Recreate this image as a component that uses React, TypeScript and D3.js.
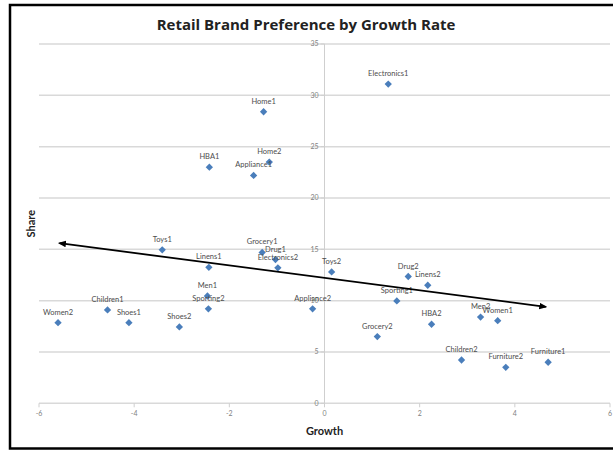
import React from "react";
import * as d3 from "d3";

// Brand segments: growth (x) vs. share (y)
const brands = [
  "Electronics1", "Home1", "HBA1", "Home2", "Appliance1", "Toys1", "Linens1",
  "Grocery1", "Drug1", "Electronics2", "Toys2", "Drug2", "Linens2", "Men1",
  "Sporting2", "Children1", "Women2", "Shoes1", "Shoes2", "Appliance2",
  "Sporting1", "Grocery2", "HBA2", "Men2", "Women1", "Children2",
  "Furniture2", "Furniture1",
];
const growth = [
  1.34, -1.28, -2.42, -1.16, -1.49, -3.41, -2.43,
  -1.31, -1.03, -0.98, 0.15, 1.76, 2.17, -2.46,
  -2.44, -4.56, -5.6, -4.11, -3.05, -0.25,
  1.52, 1.11, 2.25, 3.28, 3.64, 2.88,
  3.81, 4.7,
];
const share = [
  31.1, 28.4, 23.0, 23.5, 22.2, 14.95, 13.25,
  14.7, 14.0, 13.2, 12.8, 12.35, 11.5, 10.45,
  9.2, 9.1, 7.85, 7.85, 7.44, 9.2,
  9.97, 6.5, 7.7, 8.4, 8.05, 4.22,
  3.5, 4.0,
];

// Trend arrow endpoints (growth, share)
const trendGrowth = [-5.57, 4.65];
const trendShare = [15.6, 9.4];

const xTicks = [-6, -4, -2, 0, 2, 4, 6];
const yTicks = [0, 5, 10, 15, 20, 25, 30, 35];

const W = 613;
const H = 451;

export default function App() {
  const x = d3.scaleLinear().domain([-6, 6]).range([39, 610]);
  const y = d3.scaleLinear().domain([0, 35]).range([403.3, 44]);
  const diamond = d3.symbol().type(d3.symbolDiamond2).size(34)();
  const trend = d3
    .line<number>()
    .x((_, i) => x(trendGrowth[i]))
    .y((d) => y(d));

  const font = "Lato, 'Open Sans', sans-serif";
  const titleFont = "'Open Sans', Lato, sans-serif";
  const labelColor = "#4d4d4d";

  return (
    <div style={{ position: "fixed", left: 0, top: 0 }}>
      <svg width={W} height={H} style={{ display: "block", background: "#fff" }}>
        <defs>
          <marker id="arrowHead" viewBox="0 0 10 10" refX="8" refY="5"
            markerWidth="4.5" markerHeight="4.5" orient="auto-start-reverse">
            <path d="M0,1 L10,5 L0,9 Z" fill="#000" />
          </marker>
        </defs>
        <rect x={10} y={5} width={W} height={443.5} fill="none" stroke="#000" strokeWidth={2.5} />

        <text x={306} y={30} textAnchor="middle" fontFamily={titleFont} fontWeight="bold"
          fontSize={15} fill="#222">
          Retail Brand Preference by Growth Rate
        </text>

        {/* horizontal gridlines */}
        {yTicks.map((t) => (
          <line key={"g" + t} x1={x(-6)} x2={x(6)} y1={y(t)} y2={y(t)}
            stroke="#d9d9d9" strokeWidth={1.5} />
        ))}
        {/* vertical axis at growth = 0 */}
        <line x1={x(0)} x2={x(0)} y1={y(0)} y2={y(35)} stroke="#cfcfcf" strokeWidth={1} />
        {yTicks.map((t) => (
          <g key={"yt" + t}>
            <line x1={x(0) - 4} x2={x(0)} y1={y(t)} y2={y(t)} stroke="#cfcfcf" />
            <text x={x(0) - 6} y={y(t)} dy="0.35em" textAnchor="end" fontFamily={font}
              fontSize={7} fill="#7f7f7f">{t}</text>
          </g>
        ))}
        {xTicks.map((t) => (
          <g key={"xt" + t}>
            <line x1={x(t)} x2={x(t)} y1={y(0)} y2={y(0) + 4} stroke="#cfcfcf" />
            <text x={x(t)} y={y(0) + 13} textAnchor="middle" fontFamily={font}
              fontSize={7} fill="#7f7f7f">{t}</text>
          </g>
        ))}

        <text transform={`translate(35,${(y(0) + y(35)) / 2}) rotate(-90)`} textAnchor="middle"
          fontFamily={font} fontWeight="bold" fontSize={11} fill="#222">Share</text>
        <text x={(x(-6) + x(6)) / 2} y={435} textAnchor="middle" fontFamily={font}
          fontWeight="bold" fontSize={11} fill="#222">Growth</text>

        {/* points */}
        {brands.map((b, i) => (
          <path key={"p" + b} d={diamond}
            transform={`translate(${x(growth[i])},${y(share[i])})`} fill="#4a7ebb" />
        ))}
        {/* point labels */}
        {brands.map((b, i) => (
          <text key={"l" + b} x={x(growth[i])} y={y(share[i]) - 8} textAnchor="middle"
            fontFamily={font} fontSize={7.5} fill={labelColor}>{b}</text>
        ))}

        <path d={trend(trendShare) || ""} fill="none" stroke="#000" strokeWidth={1.8}
          markerStart="url(#arrowHead)" markerEnd="url(#arrowHead)" />
      </svg>
    </div>
  );
}
